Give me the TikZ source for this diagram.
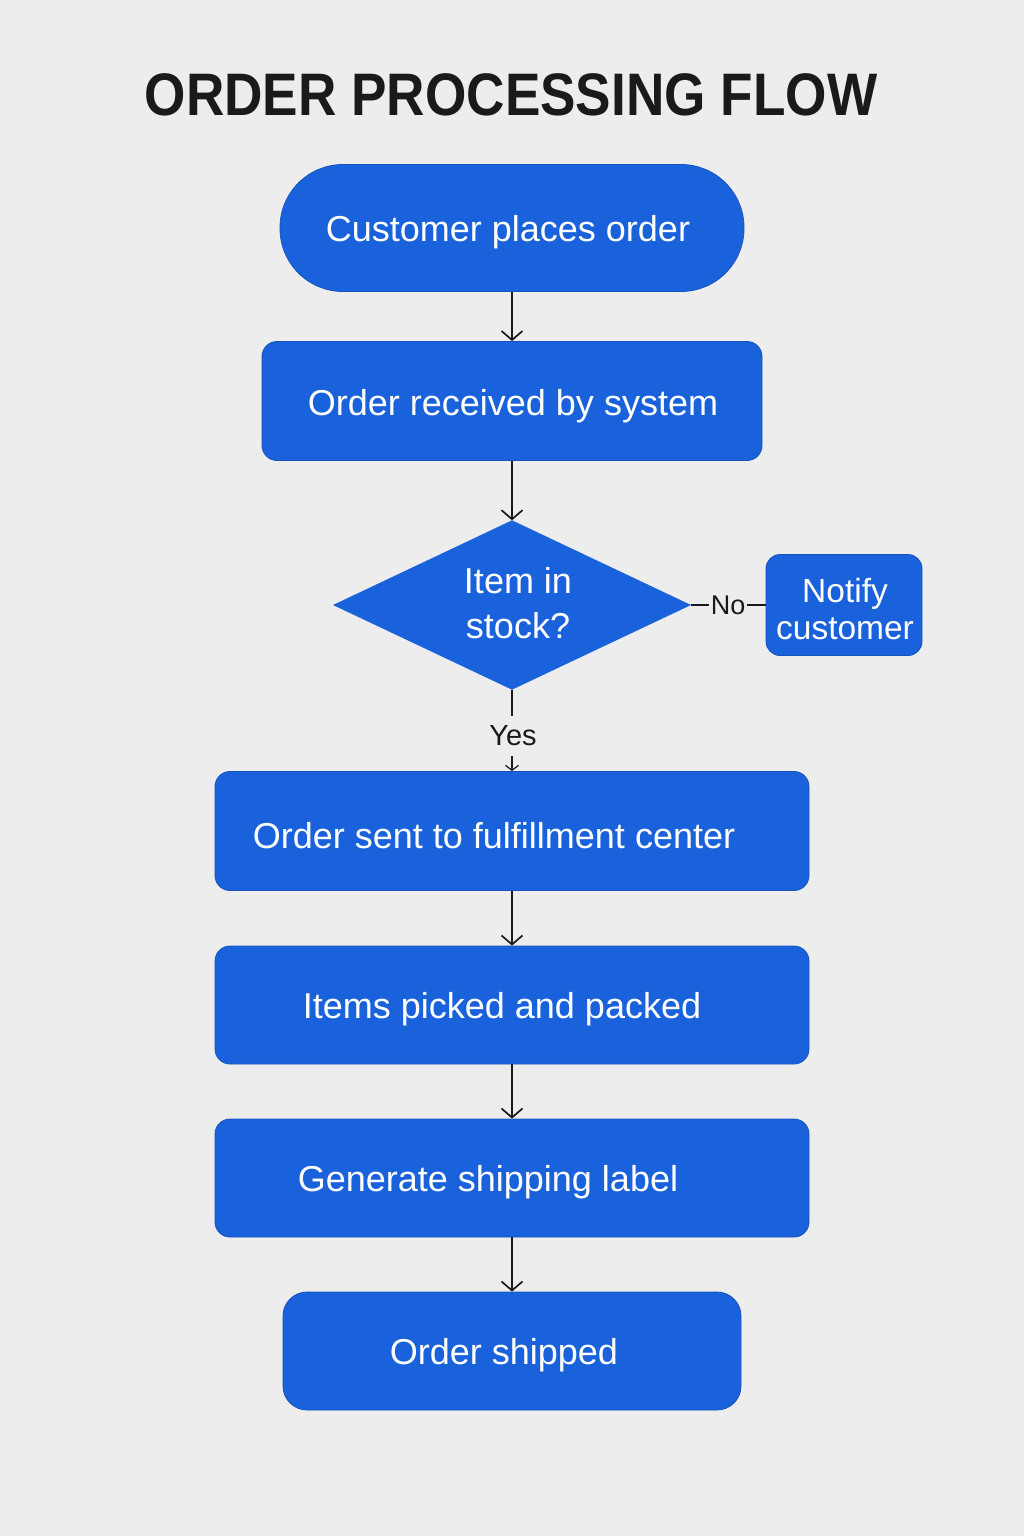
\documentclass[tikz,border=0pt]{standalone}
\usepackage{fontspec}
\setmainfont{Liberation Sans}
\usetikzlibrary{shapes.geometric,arrows.meta}
\definecolor{bg}{HTML}{EDEDED}
\definecolor{flowblue}{HTML}{1A62DC}
\definecolor{ink}{HTML}{1A1A1A}
\tikzset{
  box/.style={draw=flowblue!85!black, line width=0.8pt, fill=flowblue, rectangle, rounded corners=15pt, inner sep=0pt},
  decision/.style={draw=flowblue, fill=flowblue, diamond, inner sep=0pt},
  lbl/.style={text=white, font=\fontsize{36}{44}\selectfont, align=center, inner sep=0pt},
  arr/.style={draw=ink, line width=1.7pt, -{Straight Barb[length=9pt,width=21pt,line width=1.7pt]}},
  link/.style={draw=ink, line width=1.7pt},
  tag/.style={text=ink, font=\fontsize{27}{30}\selectfont, inner sep=2pt, fill=bg}
}
\begin{document}
\begin{tikzpicture}[x=1pt,y=-1pt]
\fill[bg] (0,0) rectangle (1024,1536);
\useasboundingbox (0,0) rectangle (1024,1536);

\node[text=ink, font=\bfseries\fontsize{60}{70}\selectfont, inner sep=0pt] (title) at (511,95) {\scalebox{0.886}[1]{ORDER PROCESSING FLOW}};

\node[box, rounded corners=63pt, minimum width=464pt, minimum height=127pt] (n1) at (512,228) {};
\node[lbl] (t1) at (508,232) {Customer places order};

\node[box, minimum width=500pt, minimum height=119pt] (n2) at (512,401) {};
\node[lbl] (t2) at (513,406) {Order received by system};

\node[decision, minimum width=357pt, minimum height=169pt] (d) at (512,605) {};
\node[lbl, font=\fontsize{36}{45}\selectfont] (td) at (518,603) {Item in\\stock?};

\node[box, rounded corners=14pt, minimum width=156pt, minimum height=101pt] (n7) at (844,605) {};
\node[lbl, font=\fontsize{33.5}{37}\selectfont] (t7) at (845,609) {Notify\\customer};

\node[box, minimum width=594pt, minimum height=119pt] (n3) at (512,831) {};
\node[lbl] (t3) at (494,836) {Order sent to fulfillment center};

\node[box, minimum width=594pt, minimum height=118pt] (n4) at (512,1005) {};
\node[lbl] (t4) at (502,1009) {Items picked and packed};

\node[box, minimum width=594pt, minimum height=118pt] (n5) at (512,1178) {};
\node[lbl] (t5) at (488,1182) {Generate shipping label};

\node[box, rounded corners=24pt, minimum width=458pt, minimum height=118pt] (n6) at (512,1351) {};
\node[lbl] (t6) at (504,1355) {Order shipped};

\draw[arr] (n1.south) -- (n2.north);
\draw[arr] (n2.south) -- (d.north);
\draw[link] (d.east) -- (n7.west) node[tag, midway] (no) {No};
\coordinate (yesbot) at (512,716);
\draw[link] (d.south) -- (yesbot);
\node[text=ink, font=\fontsize{29}{32}\selectfont, inner sep=0pt] (yes) at (513,736) {Yes};
\coordinate (yarr) at (512,756);
\draw[draw=ink, line width=1.2pt, -{Straight Barb[length=5pt,width=13pt,line width=1.2pt]}] (yarr) -- (n3.north);
\draw[arr] (n3.south) -- (n4.north);
\draw[arr] (n4.south) -- (n5.north);
\draw[arr] (n5.south) -- (n6.north);
\end{tikzpicture}
\end{document}
